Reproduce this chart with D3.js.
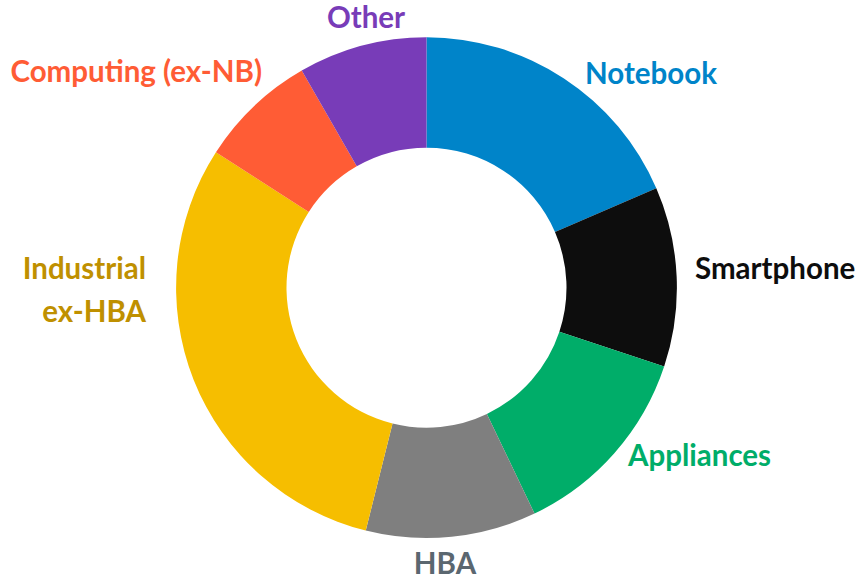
<!DOCTYPE html>
<html>
<head>
<meta charset="utf-8">
<script src="https://cdn.jsdelivr.net/npm/d3@7"></script>
<style>
  html, body { margin: 0; padding: 0; background: #fff; }
  svg { display: block; }
  text { font-family: Lato, "Open Sans", sans-serif; font-weight: 700; }
</style>
</head>
<body>
<svg id="chart" width="862" height="581"></svg>
<script>
// ---- data ----
const categories = ["Notebook", "Smartphone", "Appliances", "HBA", "Industrial ex-HBA", "Computing (ex-NB)", "Other"];
const shares = [18.5, 11.6, 12.8, 11.0, 30.2, 7.6, 8.3];
const labelLines = [["Notebook"], ["Smartphone"], ["Appliances"], ["HBA"], ["Industrial", "ex-HBA"], ["Computing (ex-NB)"], ["Other"]];

// ---- styles / layout ----
const sliceColors = ["#0084C9", "#0D0D0D", "#00AD69", "#7F7F7F", "#F6BE00", "#FF5C35", "#783CB8"];
const labelColors = ["#0084C9", "#0D0D0D", "#00AD69", "#5B6770", "#BF9000", "#FF5C35", "#783CB8"];
const labelPos = [
  {x: 585, y: 84, anchor: "start"},
  {x: 695, y: 279, anchor: "start"},
  {x: 628, y: 466, anchor: "start"},
  {x: 445, y: 574, anchor: "middle"},
  {x: 146, y: 279, anchor: "end"},
  {x: 262, y: 82, anchor: "end"},
  {x: 366, y: 27.5, anchor: "middle"}
];
const lineGap = 42.7;
const fontSize = 29.5;
const cx = 426.5, cy = 287.7, rOuter = 250.4, rInner = 140;

const data = categories.map((c, i) => ({name: c, value: shares[i], i}));

const svg = d3.select("#chart");
const g = svg.append("g").attr("transform", `translate(${cx},${cy})`);

const pie = d3.pie().value(d => d.value).sort(null).startAngle(0).endAngle(2 * Math.PI);
const arc = d3.arc().innerRadius(rInner).outerRadius(rOuter);

g.selectAll("path.slice")
  .data(pie(data))
  .join("path")
  .attr("class", "slice")
  .attr("d", arc)
  .attr("fill", d => sliceColors[d.data.i]);

const labels = svg.selectAll("text.lbl")
  .data(data)
  .join("text")
  .attr("class", "lbl")
  .attr("x", d => labelPos[d.i].x)
  .attr("y", d => labelPos[d.i].y)
  .attr("text-anchor", d => labelPos[d.i].anchor)
  .attr("fill", d => labelColors[d.i])
  .style("font-size", fontSize + "px");

labels.selectAll("tspan")
  .data(d => labelLines[d.i].map((t, k) => ({t, k, i: d.i})))
  .join("tspan")
  .attr("x", d => labelPos[d.i].x)
  .attr("dy", d => d.k === 0 ? 0 : lineGap)
  .text(d => d.t);
</script>
</body>
</html>
